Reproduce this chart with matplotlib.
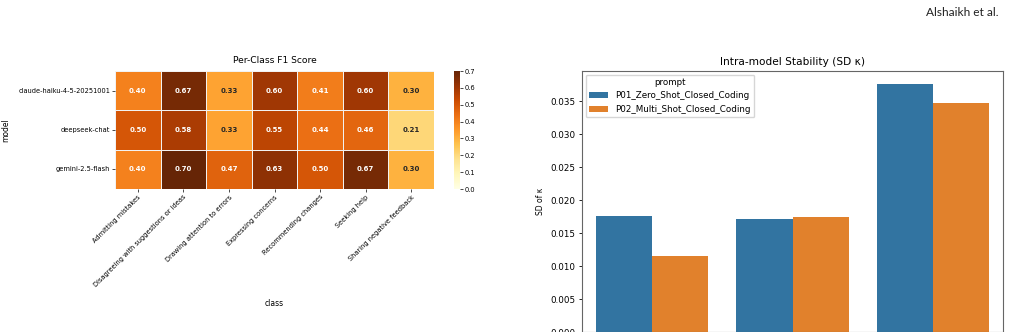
import matplotlib
matplotlib.use('Agg')
import matplotlib.pyplot as plt
import seaborn as sns
import pandas as pd
import numpy as np

# heatmap data
models = ['claude-haiku-4-5-20251001', 'deepseek-chat', 'gemini-2.5-flash']
classes = ['Admitting mistakes', 'Disagreeing with suggestions or ideas',
           'Drawing attention to errors', 'Expressing concerns',
           'Recommending changes', 'Seeking help', 'Sharing negative feedback']
f1_claude = [0.40, 0.67, 0.33, 0.60, 0.41, 0.60, 0.30]
f1_deepseek = [0.50, 0.58, 0.33, 0.55, 0.44, 0.46, 0.21]
f1_gemini = [0.40, 0.70, 0.47, 0.63, 0.50, 0.67, 0.30]

# bar data
prompts = ['P01_Zero_Shot_Closed_Coding', 'P02_Multi_Shot_Closed_Coding']
sd_p01 = [0.0176, 0.0171, 0.0377]
sd_p02 = [0.0115, 0.0174, 0.0347]

W, H = 1015, 332
fig = plt.figure(figsize=(W / 100, H / 100), dpi=100)


def px_axes(left, top, right, bottom):
    return fig.add_axes([left / W, 1 - bottom / H, (right - left) / W, (bottom - top) / H])


# ---- left: heatmap ----
f1_df = pd.DataFrame([f1_claude, f1_deepseek, f1_gemini], index=models, columns=classes)
f1_df.index.name = 'model'
f1_df.columns.name = 'class'

ax1 = px_axes(115, 71, 434, 189)
cax = px_axes(454, 71, 460, 189)
sns.heatmap(f1_df, ax=ax1, cbar_ax=cax, cmap='YlOrBr', vmin=0, vmax=0.7,
            annot=True, fmt='.2f', linewidths=0.6, linecolor='#f2f2f2',
            annot_kws={'fontsize': 5, 'fontweight': 'bold'})
ax1.set_title('Per-Class F1 Score', fontsize=6.6, pad=6)
ax1.set_xlabel('class', fontsize=5.5, labelpad=8)
ax1.set_ylabel('model', fontsize=5.5, labelpad=6)
ax1.tick_params(axis='both', labelsize=4.8, length=2, width=0.5, pad=1.5)
plt.setp(ax1.get_xticklabels(), rotation=45, ha='right', rotation_mode='anchor')
plt.setp(ax1.get_yticklabels(), rotation=0)
cax.tick_params(labelsize=4.8, length=2, width=0.5, pad=1)
cax.set_yticks(np.arange(0, 0.71, 0.1))
cax.set_yticklabels([f'{v:.1f}' for v in np.arange(0, 0.71, 0.1)])
for s in cax.spines.values():
    s.set_visible(False)

# ---- right: bar chart ----
sd_df = pd.DataFrame({
    'model': models * 2,
    'prompt': [prompts[0]] * 3 + [prompts[1]] * 3,
    'sd': sd_p01 + sd_p02,
})
ax2 = px_axes(582, 71, 1003, 332)
sns.barplot(data=sd_df, x='model', y='sd', hue='prompt', ax=ax2)
ax2.set_ylim(0, 0.0396)
ax2.set_title('Intra-model Stability (SD κ)', fontsize=7.6, pad=4)
ax2.set_ylabel('SD of κ', fontsize=5.5)
ax2.set_xlabel('')
# model names sit below the visible crop in the reference
ax2.set_xticks(range(len(models)))
ax2.set_xticklabels([''] * len(models))
ax2.set_yticks([0, 0.005, 0.010, 0.015, 0.020, 0.025, 0.030, 0.035])
ax2.set_yticklabels(['0.000', '0.005', '0.010', '0.015', '0.020', '0.025', '0.030', '0.035'])
ax2.tick_params(axis='y', labelsize=6.3, length=2.5, width=0.6, pad=2)
for s in ax2.spines.values():
    s.set_edgecolor('#666666')
    s.set_linewidth(0.8)
leg = ax2.legend(title='prompt', loc='upper left', fontsize=6.3, title_fontsize=6.3,
                 borderaxespad=0.4, handlelength=2.2)

fig.text(998 / W, 1 - 13 / H, 'Alshaikh et al.', ha='right', va='center',
         fontsize=8.6, family='Lato', color='#222222')

fig.savefig('out.png', dpi=100)
